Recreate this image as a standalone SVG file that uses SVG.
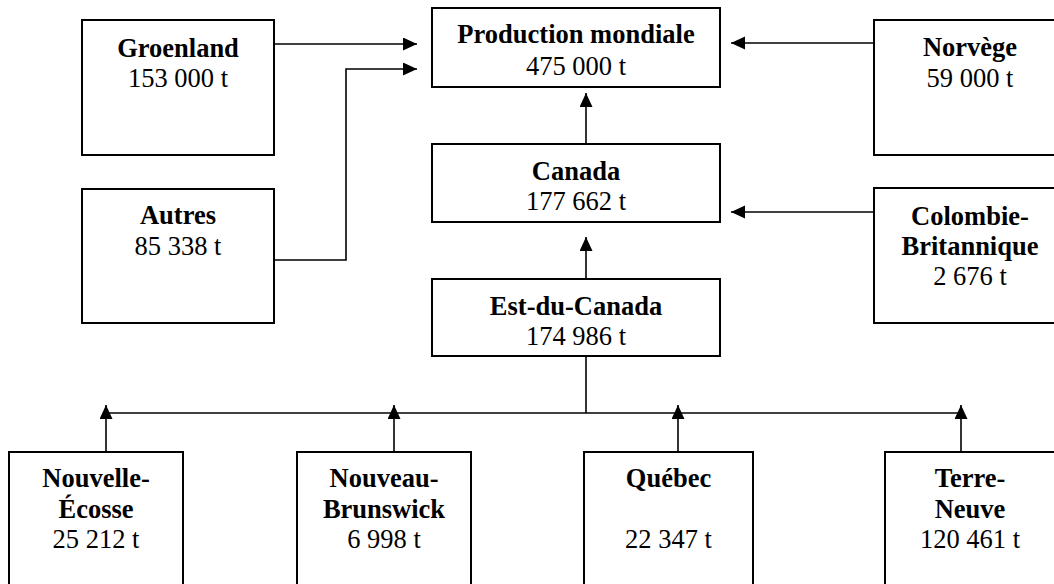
<svg xmlns="http://www.w3.org/2000/svg" width="1054" height="584" viewBox="0 0 1054 584">
<style>
.box{fill:#fff;stroke:#000;stroke-width:2}
.c{fill:none;stroke:#000;stroke-width:1.6}
text{font-family:"Liberation Serif","Times New Roman",serif;font-size:26.5px;fill:#000;text-anchor:middle}
.b{font-weight:bold}
</style>
<defs>
<marker id="ah" markerUnits="userSpaceOnUse" markerWidth="15" markerHeight="14" refX="14" refY="6.5" orient="auto">
<path d="M0,0 L14,6.5 L0,13 z" fill="#000"/>
</marker>
</defs>
<rect width="1054" height="584" fill="#fff"/>
<g id="connectors">
<path class="c" d="M274 44 H417" marker-end="url(#ah)"/>
<path class="c" d="M274 260 H346 V69 H417" marker-end="url(#ah)"/>
<path class="c" d="M874 43 H731" marker-end="url(#ah)"/>
<path class="c" d="M874 212 H731" marker-end="url(#ah)"/>
<path class="c" d="M586 144 V93" marker-end="url(#ah)"/>
<path class="c" d="M586 279 V237" marker-end="url(#ah)"/>
<path class="c" d="M586 356 V413"/>
<path class="c" d="M106 413 H961"/>
<path class="c" d="M106 452 V405" marker-end="url(#ah)"/>
<path class="c" d="M394 452 V405" marker-end="url(#ah)"/>
<path class="c" d="M678 452 V405" marker-end="url(#ah)"/>
<path class="c" d="M961 452 V405" marker-end="url(#ah)"/>
</g>
<g id="groenland">
<rect class="box" x="82" y="20" width="192" height="135"/>
<text class="b" x="178" y="57">Groenland</text>
<text x="178" y="87">153 000 t</text>
</g>
<g id="autres">
<rect class="box" x="82" y="189" width="192" height="134"/>
<text class="b" x="178" y="224">Autres</text>
<text x="178" y="255">85 338 t</text>
</g>
<g id="production">
<rect class="box" x="432" y="8" width="288" height="79"/>
<text class="b" x="576" y="43">Production mondiale</text>
<text x="576" y="75">475 000 t</text>
</g>
<g id="canada">
<rect class="box" x="432" y="144" width="288" height="78"/>
<text class="b" x="576" y="180">Canada</text>
<text x="576" y="210">177 662 t</text>
</g>
<g id="est">
<rect class="box" x="432" y="279" width="288" height="77"/>
<text class="b" x="576" y="315">Est-du-Canada</text>
<text x="576" y="345">174 986 t</text>
</g>
<g id="norvege">
<rect class="box" x="874" y="20" width="192" height="135"/>
<text class="b" x="970" y="56">Norvège</text>
<text x="970" y="87">59 000 t</text>
</g>
<g id="colombie">
<rect class="box" x="874" y="188" width="192" height="135"/>
<text class="b" x="970" y="225">Colombie-</text>
<text class="b" x="970" y="255">Britannique</text>
<text x="970" y="285">2 676 t</text>
</g>
<g id="nouvelle-ecosse">
<rect class="box" x="9" y="452" width="174" height="150"/>
<text class="b" x="96" y="487">Nouvelle-</text>
<text class="b" x="96" y="518">Écosse</text>
<text x="96" y="548">25 212 t</text>
</g>
<g id="nouveau-brunswick">
<rect class="box" x="297" y="452" width="174" height="150"/>
<text class="b" x="384" y="487">Nouveau-</text>
<text class="b" x="384" y="518">Brunswick</text>
<text x="384" y="548">6 998 t</text>
</g>
<g id="quebec">
<rect class="box" x="584" y="452" width="169" height="150"/>
<text class="b" x="668.5" y="487">Québec</text>
<text x="668.5" y="548">22 347 t</text>
</g>
<g id="terre-neuve">
<rect class="box" x="885" y="452" width="170" height="150"/>
<text class="b" x="970" y="487">Terre-</text>
<text class="b" x="970" y="518">Neuve</text>
<text x="970" y="548">120 461 t</text>
</g>
</svg>
